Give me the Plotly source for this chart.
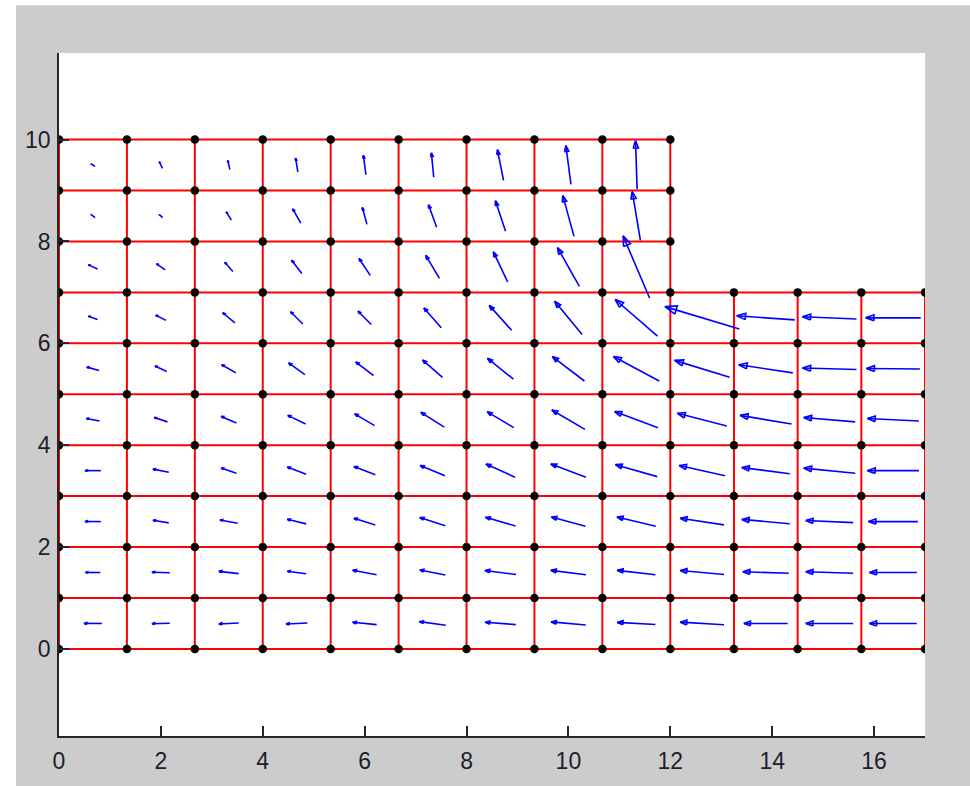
import math
import plotly.graph_objects as go

# ---------------- data ----------------
X_NODES_LEFT = [0, 4/3, 8/3, 4, 16/3, 20/3, 8, 28/3, 32/3, 12]
X_NODES_RIGHT = [12, 13.25, 14.5, 15.75, 17]
Y_NODES_LEFT = [0, 1, 2, 3, 4, 5, 6, 7, 8, 9, 10]
Y_NODES_RIGHT = [0, 1, 2, 3, 4, 5, 6, 7]

# element vectors (rows from bottom y=0.5 upward), left block 9 columns
U_LEFT = [
    [-0.35, -0.35, -0.39, -0.42, -0.47, -0.52, -0.60, -0.68, -0.75],
    [-0.29, -0.35, -0.39, -0.37, -0.47, -0.50, -0.61, -0.69, -0.75],
    [-0.31, -0.31, -0.35, -0.37, -0.42, -0.50, -0.59, -0.67, -0.76],
    [-0.31, -0.31, -0.30, -0.37, -0.42, -0.49, -0.57, -0.69, -0.82],
    [-0.26, -0.26, -0.30, -0.35, -0.39, -0.46, -0.52, -0.65, -0.85],
    [-0.24, -0.23, -0.28, -0.32, -0.35, -0.39, -0.51, -0.63, -0.90],
    [-0.18, -0.20, -0.24, -0.24, -0.26, -0.34, -0.44, -0.54, -0.83],
    [-0.18, -0.17, -0.16, -0.20, -0.22, -0.27, -0.28, -0.43, -0.52],
    [-0.08, -0.07, -0.10, -0.16, -0.09, -0.16, -0.20, -0.22, -0.16],
    [-0.08, -0.065, -0.045, -0.045, -0.05, -0.045, -0.12, -0.10, -0.03],
]
V_LEFT = [
    [0.0, -0.01, -0.02, -0.02, 0.045, 0.07, 0.045, 0.06, 0.04],
    [0.0, 0.01, 0.045, 0.05, 0.09, 0.10, 0.08, 0.085, 0.085],
    [0.0, 0.05, 0.065, 0.09, 0.13, 0.16, 0.17, 0.18, 0.18],
    [0.0, 0.06, 0.10, 0.14, 0.16, 0.20, 0.26, 0.26, 0.235],
    [0.05, 0.085, 0.13, 0.17, 0.23, 0.29, 0.31, 0.38, 0.32],
    [0.065, 0.11, 0.16, 0.23, 0.27, 0.34, 0.41, 0.48, 0.48],
    [0.065, 0.10, 0.20, 0.24, 0.26, 0.39, 0.49, 0.65, 0.72],
    [0.08, 0.12, 0.18, 0.26, 0.33, 0.45, 0.59, 0.76, 1.22],
    [0.065, 0.065, 0.16, 0.28, 0.33, 0.44, 0.60, 0.80, 0.96],
    [0.05, 0.13, 0.18, 0.27, 0.38, 0.48, 0.60, 0.76, 0.95],
]
# right block 4 columns, 7 rows
U_RIGHT = [
    [-0.86, -0.86, -0.93, -0.93],
    [-0.86, -0.90, -0.93, -0.93],
    [-0.86, -0.94, -0.93, -0.97],
    [-0.90, -0.94, -1.01, -1.01],
    [-0.97, -1.01, -1.01, -1.01],
    [-1.08, -1.06, -1.06, -1.05],
    [-1.46, -1.14, -1.06, -1.08],
]
V_RIGHT = [
    [0.05, 0.0, 0.0, 0.0],
    [0.08, 0.03, 0.03, 0.0],
    [0.13, 0.085, 0.04, 0.0],
    [0.20, 0.12, 0.10, 0.0],
    [0.25, 0.17, 0.085, 0.05],
    [0.33, 0.16, 0.03, 0.01],
    [0.44, 0.08, 0.045, 0.0],
]

X_TICKS = [0, 2, 4, 6, 8, 10, 12, 14, 16]
Y_TICKS = [0, 2, 4, 6, 8, 10]

# ---------------- build geometry ----------------
lx, ly = [], []
x_max_left = X_NODES_LEFT[-1]
x_max_right = X_NODES_RIGHT[-1]
y_top_left = Y_NODES_LEFT[-1]
y_top_right = Y_NODES_RIGHT[-1]
for y in Y_NODES_LEFT:
    x_end = x_max_right if y <= y_top_right else x_max_left
    lx += [X_NODES_LEFT[0], x_end, None]
    ly += [y, y, None]
for x in X_NODES_LEFT:
    lx += [x, x, None]
    ly += [Y_NODES_LEFT[0], y_top_left, None]
for x in X_NODES_RIGHT[1:]:
    lx += [x, x, None]
    ly += [Y_NODES_RIGHT[0], y_top_right, None]

nx, ny = [], []
for x in X_NODES_LEFT:
    for y in Y_NODES_LEFT:
        nx.append(x)
        ny.append(y)
for x in X_NODES_RIGHT[1:]:
    for y in Y_NODES_RIGHT:
        nx.append(x)
        ny.append(y)

ax, ay = [], []
HEAD_LEN = 0.15
HEAD_W = 0.055


def add_arrow(cx, cy, u, v):
    L = math.hypot(u, v)
    if L == 0:
        return
    tx, ty = cx - u / 2, cy - v / 2
    hx, hy = cx + u / 2, cy + v / 2
    ex, ey = u / L, v / L
    px, py = -ey, ex
    bx, by = hx - HEAD_LEN * L * ex, hy - HEAD_LEN * L * ey
    w = HEAD_W * L
    ax.extend([tx, hx, None,
               bx + w * px, hx, bx - w * px, bx + w * px, None])
    ay.extend([ty, hy, None,
               by + w * py, hy, by - w * py, by + w * py, None])


for j in range(len(U_LEFT)):
    cy = (Y_NODES_LEFT[j] + Y_NODES_LEFT[j + 1]) / 2
    for i in range(len(U_LEFT[j])):
        cx = (X_NODES_LEFT[i] + X_NODES_LEFT[i + 1]) / 2
        add_arrow(cx, cy, U_LEFT[j][i], V_LEFT[j][i])
for j in range(len(U_RIGHT)):
    cy = (Y_NODES_RIGHT[j] + Y_NODES_RIGHT[j + 1]) / 2
    for i in range(len(U_RIGHT[j])):
        cx = (X_NODES_RIGHT[i] + X_NODES_RIGHT[i + 1]) / 2
        add_arrow(cx, cy, U_RIGHT[j][i], V_RIGHT[j][i])

# ---------------- figure ----------------
fig = go.Figure()
fig.add_trace(go.Scatter(x=lx, y=ly, mode="lines",
                         line=dict(color="#ff0000", width=2),
                         hoverinfo="skip", showlegend=False))
fig.add_trace(go.Scatter(x=ax, y=ay, mode="lines",
                         line=dict(color="#0000ff", width=1.6),
                         hoverinfo="skip", showlegend=False))
fig.add_trace(go.Scatter(x=nx, y=ny, mode="markers",
                         marker=dict(color="black", size=8.5, symbol="circle"),
                         hoverinfo="skip", showlegend=False))

W, H = 970, 786
ML, MR, MT, MB = 59, 45, 53, 48
PW, PH = W - ML - MR, H - MT - MB

fig.update_layout(
    width=W, height=H,
    margin=dict(l=ML, r=MR, t=MT, b=MB, pad=0),
    paper_bgcolor="#cccccc",
    plot_bgcolor="white",
    font=dict(family="Liberation Sans, Arial, sans-serif", size=23, color="#1e1e2a"),
    xaxis=dict(range=[0, 17], tickvals=X_TICKS, ticks="inside", ticklen=10,
               tickwidth=1.5, tickcolor="#262626", showline=True,
               linecolor="#262626", linewidth=1.5, showgrid=False,
               zeroline=False, mirror=False, ticklabelstandoff=4),
    yaxis=dict(range=[-1.71, 11.70], tickvals=Y_TICKS, ticks="inside", ticklen=10,
               tickwidth=1.5, tickcolor="#262626", showline=True,
               linecolor="#262626", linewidth=1.5, showgrid=False,
               zeroline=False, mirror=False, ticklabelstandoff=2),
    shapes=[
        dict(type="rect", xref="paper", yref="paper",
             x0=-ML / PW, x1=(16 - ML) / PW, y0=-MB / PH - 0.01, y1=(PH + MT) / PH + 0.01,
             fillcolor="white", line=dict(width=0), layer="below"),
        dict(type="rect", xref="paper", yref="paper",
             x0=-ML / PW, x1=(PW + MR) / PW + 0.01, y0=(PH + MT - 5) / PH, y1=(PH + MT) / PH + 0.01,
             fillcolor="white", line=dict(width=0), layer="below"),
    ],
)

fig.write_html("out.html")
